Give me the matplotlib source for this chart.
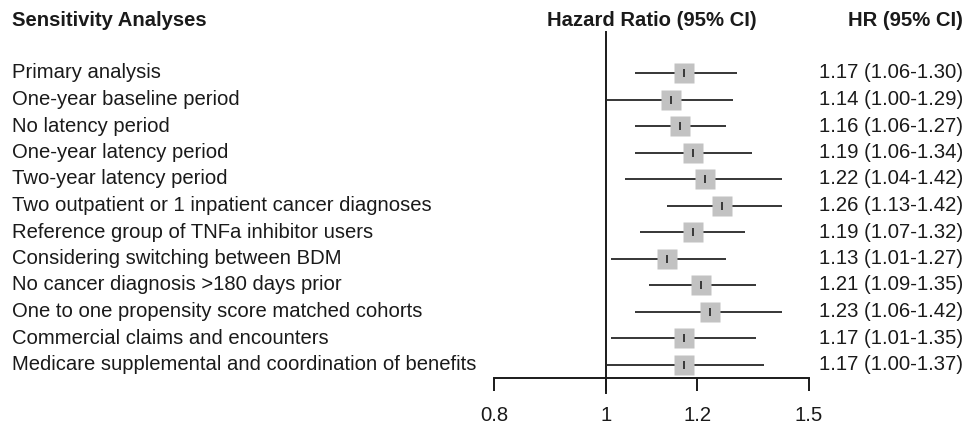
import matplotlib
matplotlib.use("Agg")
import matplotlib.pyplot as plt

plt.rcParams['font.family'] = ['Liberation Sans', 'DejaVu Sans']

analyses = [
    "Primary analysis",
    "One-year baseline period",
    "No latency period",
    "One-year latency period",
    "Two-year latency period",
    "Two outpatient or 1 inpatient cancer diagnoses",
    "Reference group of TNFa inhibitor users",
    "Considering switching between BDM",
    "No cancer diagnosis >180 days prior",
    "One to one propensity score matched cohorts",
    "Commercial claims and encounters",
    "Medicare supplemental and coordination of benefits",
]
hr = [1.17, 1.14, 1.16, 1.19, 1.22, 1.26, 1.19, 1.13, 1.21, 1.23, 1.17, 1.17]
lower = [1.06, 1.00, 1.06, 1.06, 1.04, 1.13, 1.07, 1.01, 1.09, 1.06, 1.01, 1.00]
upper = [1.30, 1.29, 1.27, 1.34, 1.42, 1.42, 1.32, 1.27, 1.35, 1.42, 1.35, 1.37]
xticks = [0.8, 1, 1.2, 1.5]
xticklabels = ["0.8", "1", "1.2", "1.5"]

W, H = 968, 426
fig = plt.figure(figsize=(W / 100, H / 100), dpi=100)

# axes placed in pixel coords: x 494..809, y 35..378 (from top)
ax_l, ax_r, ax_t, ax_b = 494, 809, 35, 378
ax = fig.add_axes([ax_l / W, 1 - ax_b / H, (ax_r - ax_l) / W, (ax_b - ax_t) / H])
ax.set_xscale('log')
ax.set_xlim(0.8, 1.5)
row0, step = 73, 26.5
ax.set_ylim((ax_b - row0) / step, (ax_t - row0) / step)

ys = list(range(len(analyses)))
txtcol = '#1a1a1a'
fs = 14.6

ax.hlines(ys, lower, upper, color='#262626', lw=1.3, zorder=2)
ax.plot(hr, ys, 's', ms=15, color='#c2c2c2', mec='none', zorder=3)
ax.plot(hr, ys, '|', ms=6, mew=1.2, color='#222222', zorder=4)

# reference line at 1
ax.plot([1, 1], [(32 - row0) / step, (393 - row0) / step], color='#1a1a1a', lw=1.4,
        clip_on=False, zorder=1)

for s in ['top', 'right', 'left']:
    ax.spines[s].set_visible(False)
ax.spines['bottom'].set_linewidth(1.4)
ax.spines['bottom'].set_color('#1a1a1a')
ax.set_yticks([])
ax.set_xticks(xticks)
ax.set_xticklabels(xticklabels)
ax.xaxis.set_minor_locator(matplotlib.ticker.NullLocator())
ax.tick_params(axis='x', direction='out', length=9, width=1.4, pad=11,
               labelsize=fs, colors=txtcol)

for y, name, h, lo, up in zip(ys, analyses, hr, lower, upper):
    ypix = row0 + y * step
    fig.text(12 / W, 1 - ypix / H, name, fontsize=fs, color=txtcol,
             ha='left', va='center')
    fig.text(963 / W, 1 - ypix / H, f"{h:.2f} ({lo:.2f}-{up:.2f})", fontsize=fs,
             color=txtcol, ha='right', va='center')

fig.text(12 / W, 1 - 21 / H, "Sensitivity Analyses", fontsize=fs, fontweight='bold',
         color=txtcol, ha='left', va='center')
fig.text(652 / W, 1 - 21 / H, "Hazard Ratio (95% CI)", fontsize=fs, fontweight='bold',
         color=txtcol, ha='center', va='center')
fig.text(963 / W, 1 - 21 / H, "HR (95% CI)", fontsize=fs, fontweight='bold',
         color=txtcol, ha='right', va='center')

fig.savefig("out.png", dpi=100)
